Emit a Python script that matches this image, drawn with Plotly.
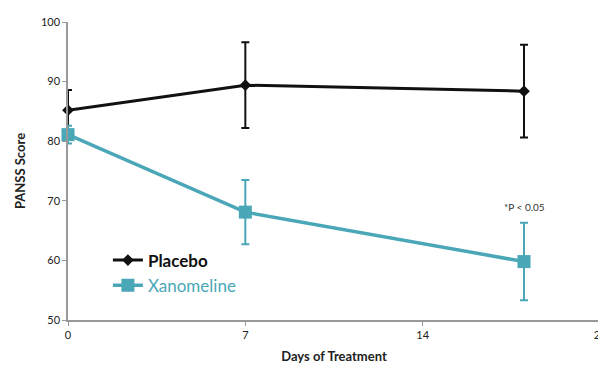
import plotly.graph_objects as go

days = [0, 7, 18]
placebo = [85.2, 89.4, 88.4]
placebo_err = [3.4, 7.2, 7.8]
xano = [81.1, 68.1, 59.8]
xano_err = [1.5, 5.4, 6.5]
x_ticks = [0, 7, 14, 21]
y_ticks = [50, 60, 70, 80, 90, 100]

TEAL = "#4aa7b8"
FONT = "Lato"

fig = go.Figure()
fig.add_trace(go.Scatter(
    x=days, y=placebo, name="<b>Placebo</b>", mode="lines+markers",
    line=dict(color="#111111", width=3),
    marker=dict(symbol="diamond", size=9, color="#111111"),
    error_y=dict(type="data", array=placebo_err, color="#111111", thickness=2, width=4),
    cliponaxis=False,
))
fig.add_trace(go.Scatter(
    x=days, y=xano, name="<span style='color:%s'>Xanomeline</span>" % TEAL, mode="lines+markers",
    line=dict(color=TEAL, width=3.5),
    marker=dict(symbol="square", size=13, color=TEAL),
    error_y=dict(type="data", array=xano_err, color=TEAL, thickness=2, width=4),
    cliponaxis=False,
))

fig.add_annotation(x=days[2], y=xano[2] + xano_err[2], yshift=16, text="*P < 0.05",
                   showarrow=False, font=dict(family=FONT, size=10, color="#333333"))

axis_common = dict(showgrid=False, zeroline=False, showline=True, linecolor="#999999", linewidth=1.5,
                   ticks="outside", ticklen=4, tickcolor="#999999", automargin=False,
                   ticklabeloverflow="allow",
                   tickfont=dict(family=FONT, size=11, color="#222222"))

fig.update_xaxes(range=[0, 21], tickvals=x_ticks, **axis_common,
                 title=dict(text="<b>Days of Treatment</b>", font=dict(family=FONT, size=13, color="#222222"), standoff=12))
fig.update_yaxes(range=[50, 100], tickvals=y_ticks, **axis_common,
                 title=dict(text="<b>PANSS Score</b>", font=dict(family=FONT, size=13, color="#222222"), standoff=12))

fig.update_layout(
    width=598, height=363,
    margin=dict(l=60, r=6, t=14, b=51),
    plot_bgcolor="white", paper_bgcolor="white",
    showlegend=True,
    legend=dict(x=0.075, y=0.26, xanchor="left", yanchor="top", bgcolor="rgba(0,0,0,0)",
                font=dict(family=FONT, size=17, color="#111111"), tracegroupgap=0,
                itemwidth=30),
)

fig.write_html("out.html")
